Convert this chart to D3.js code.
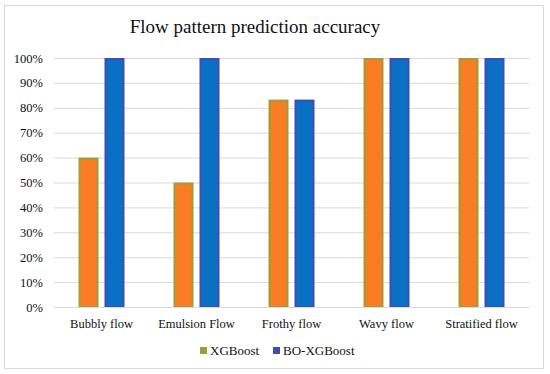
<!DOCTYPE html>
<html>
<head>
<meta charset="utf-8">
<script src="https://cdn.jsdelivr.net/npm/d3@7"></script>
<style>
  body { margin: 0; background: #fff; }
  svg { display: block; font-family: "Liberation Serif", "Times New Roman", serif; }
</style>
</head>
<body>
<svg id="chart" width="550" height="374"></svg>
<script>
'use strict';

// data
var categories = ['Bubbly flow', 'Emulsion Flow', 'Frothy flow', 'Wavy flow', 'Stratified flow'];
var seriesNames = ['XGBoost', 'BO-XGBoost'];
var xgboostValues = [0.60, 0.50, 0.833, 1.00, 1.00];
var boXgboostValues = [1.00, 1.00, 0.833, 1.00, 1.00];
var yTicks = [0, 0.1, 0.2, 0.3, 0.4, 0.5, 0.6, 0.7, 0.8, 0.9, 1.0];

var fills = { 'XGBoost': '#fb7d23', 'BO-XGBoost': '#0a70c4' };
var strokes = { 'XGBoost': '#a09c36', 'BO-XGBoost': '#3e4cba' };

var svg = d3.select('#chart');
var plotLeft = 54, plotRight = 529, plotTop = 58, plotBottom = 307;

// chart frame
svg.append('rect')
    .attr('x', 4.5).attr('y', 5.5)
    .attr('width', 539).attr('height', 363)
    .attr('fill', 'none').attr('stroke', '#d9d9d9');

svg.append('text')
    .attr('x', 255).attr('y', 33)
    .attr('text-anchor', 'middle')
    .attr('font-size', 19)
    .attr('fill', '#111')
    .text('Flow pattern prediction accuracy');

var x0 = d3.scaleBand().domain(categories).range([plotLeft, plotRight]);
var x1 = d3.scaleBand().domain(seriesNames).range([0, 46]).paddingInner(0.23);
var y = d3.scaleLinear().domain([0, 1]).range([plotBottom, plotTop]);

// gridlines
var yAxis = d3.axisLeft(y)
    .tickValues(yTicks)
    .tickFormat(d3.format('.0%'))
    .tickSize(-(plotRight - plotLeft))
    .tickPadding(11);

var gy = svg.append('g')
    .attr('transform', 'translate(' + plotLeft + ',0)')
    .call(yAxis);
gy.select('.domain').remove();
gy.selectAll('.tick line').attr('stroke', '#d9d9d9');
gy.selectAll('.tick text')
    .attr('font-size', 12.5)
    .attr('font-family', '"Liberation Serif", serif')
    .attr('fill', '#111');

// bars
var rows = categories.map(function(c, i) {
    return { cat: c, values: [
        { name: 'XGBoost', value: xgboostValues[i] },
        { name: 'BO-XGBoost', value: boXgboostValues[i] }
    ] };
});

var groups = svg.append('g').selectAll('g')
    .data(rows)
    .enter().append('g')
        .attr('transform', function(d) {
            return 'translate(' + (x0(d.cat) + x0.bandwidth() / 2 - 23) + ',0)';
        });

groups.selectAll('rect')
    .data(function(d) { return d.values; })
    .enter().append('rect')
        .attr('x', function(d) { return x1(d.name) + 1; })
        .attr('y', function(d) { return y(d.value) + 1; })
        .attr('width', x1.bandwidth() - 2)
        .attr('height', function(d) { return plotBottom - y(d.value) - 1; })
        .attr('fill', function(d) { return fills[d.name]; })
        .attr('stroke', function(d) { return strokes[d.name]; })
        .attr('stroke-width', 2);

// category labels
var xAxis = d3.axisBottom(x0).tickSize(0).tickPadding(12);
var gx = svg.append('g')
    .attr('transform', 'translate(0,' + plotBottom + ')')
    .call(xAxis);
gx.select('.domain').attr('stroke', '#d9d9d9');
gx.selectAll('.tick text')
    .attr('font-size', 12.5)
    .attr('font-family', '"Liberation Serif", serif')
    .attr('fill', '#111');

// legend
var legendX = [200, 273];
var legend = svg.append('g').selectAll('g')
    .data(seriesNames)
    .enter().append('g')
        .attr('transform', function(d, i) { return 'translate(' + legendX[i] + ',347)'; });

legend.append('rect')
    .attr('x', 0.75).attr('y', 0.75)
    .attr('width', 5.5).attr('height', 5.5)
    .attr('fill', function(d) { return strokes[d]; })
    .attr('stroke', function(d) { return strokes[d]; })
    .attr('stroke-width', 1.5);

legend.append('text')
    .attr('x', 10).attr('y', 7.5)
    .attr('font-size', 13)
    .attr('fill', '#111')
    .text(function(d) { return d; });
</script>
</body>
</html>
